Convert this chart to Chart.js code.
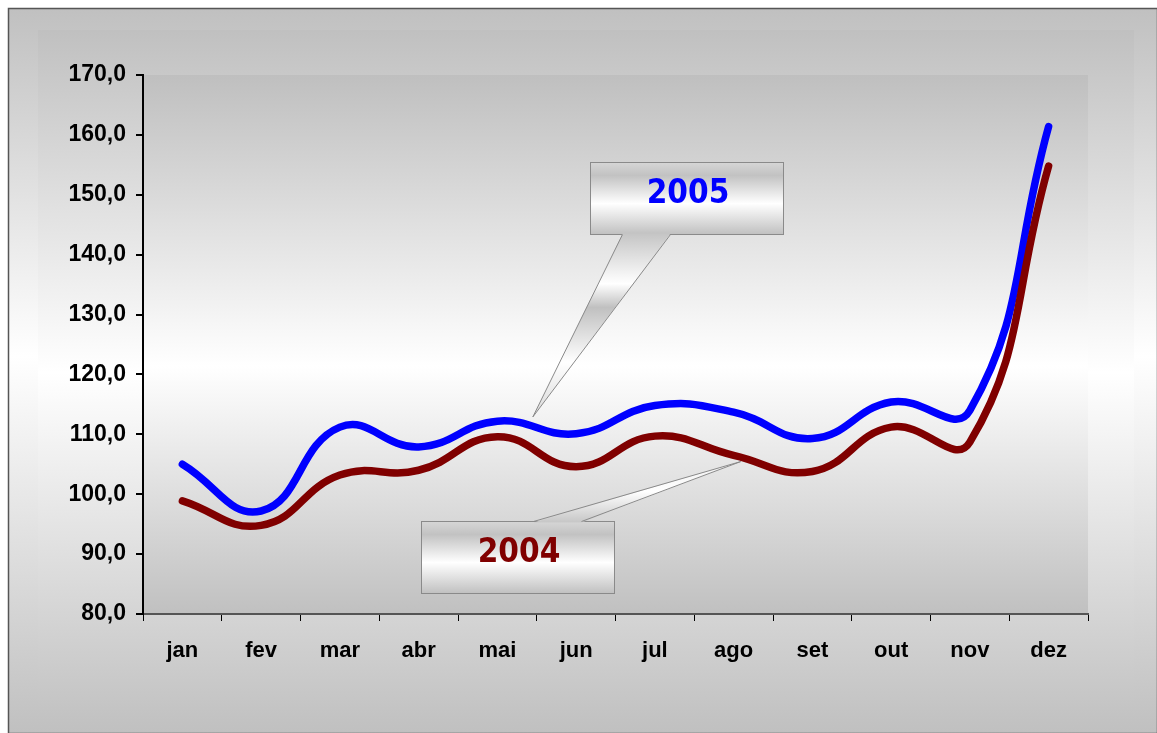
<!DOCTYPE html>
<html>
<head>
<meta charset="utf-8">
<script src="https://cdn.jsdelivr.net/npm/chart.js@4.4.0/dist/chart.umd.min.js"></script>
<style>
  html, body { margin: 0; padding: 0; background: #fff; }
  canvas { display: block; }
</style>
</head>
<body>
<canvas id="myChart" width="1157" height="733"></canvas>
<script>
const months = ["jan", "fev", "mar", "abr", "mai", "jun", "jul", "ago", "set", "out", "nov", "dez"];
const values2004 = [98.9, 94.8, 103.2, 104.0, 109.6, 104.6, 109.7, 106.5, 103.8, 111.2, 108.7, 154.8];
const values2005 = [105.0, 97.2, 111.2, 107.9, 112.2, 110.1, 114.8, 113.7, 109.3, 115.4, 114.0, 161.4];
const yMin = 80;
const yMax = 170;
const yStep = 10;

// callout boxes: box centre and tip are given as (category index, value)
const callouts = [
  { text: "2005", color: "#0000ff", box: [6.40, 149.5], tip: [4.45, 112.9], tail: [32, 80], side: "bottom" },
  { text: "2004", color: "#800000", box: [4.25, 89.5], tip: [7.09, 105.45], tail: [112, 160], side: "top" },
];

const ctx = document.getElementById("myChart");
const fontFamily = "'Liberation Sans', Arial, sans-serif";

function vGradient(c, y0, y1, stops) {
  const g = c.createLinearGradient(0, y0, 0, y1);
  stops.forEach(([p, col]) => g.addColorStop(p, col));
  return g;
}

const backgroundPlugin = {
  id: "background",
  beforeDraw(chart) {
    const c = chart.ctx;
    const { width, height, chartArea } = chart;
    c.save();
    c.fillStyle = vGradient(c, 8, height, [[0, "#c0c0c0"], [0.48, "#ffffff"], [1, "#c0c0c0"]]);
    c.fillRect(8, 8, width - 8, height - 8);
    c.fillStyle = vGradient(c, 30, 715, [[0, "#c0c0c0"], [0.5, "#ffffff"], [1, "#c3c3c3"]]);
    c.fillRect(38, 30, 1096, 685);
    c.strokeStyle = "#555555";
    c.lineWidth = 1.5;
    c.strokeRect(8.5, 8.5, width - 8, height - 8);
    c.fillStyle = vGradient(c, chartArea.top, chartArea.bottom, [[0, "#bfbfbf"], [0.54, "#ffffff"], [1, "#c0c0c0"]]);
    c.fillRect(chartArea.left, chartArea.top, chartArea.right - chartArea.left, chartArea.bottom - chartArea.top);
    c.restore();
  },
};

const calloutPlugin = {
  id: "callouts",
  afterDraw(chart) {
    const c = chart.ctx;
    const xs = chart.scales.x;
    const ys = chart.scales.y;
    const w = 193, h = 72;
    callouts.forEach((co) => {
      const cx = xs.getPixelForValue(co.box[0]);
      const cy = ys.getPixelForValue(co.box[1]);
      const left = Math.round(cx - w / 2) + 0.5;
      const top = Math.round(cy - h / 2) + 0.5;
      const tx = xs.getPixelForValue(co.tip[0]);
      const ty = ys.getPixelForValue(co.tip[1]);
      const baseY = co.side === "bottom" ? top + h : top;
      const bx0 = left + co.tail[0];
      const bx1 = left + co.tail[1];

      c.save();
      // box
      c.fillStyle = vGradient(c, top, top + h, [[0, "#d6d6d6"], [0.18, "#c2c2c2"], [0.57, "#ffffff"], [1, "#c0c0c0"]]);
      c.fillRect(left, top, w, h);
      c.strokeStyle = "#8a8a8a";
      c.lineWidth = 1;
      c.strokeRect(left, top, w, h);

      // tail
      const inset = co.side === "bottom" ? -1 : 1;
      const y0 = Math.min(baseY, ty), y1 = Math.max(baseY, ty);
      c.beginPath();
      c.moveTo(bx0, baseY + inset);
      c.lineTo(tx, ty);
      c.lineTo(bx1, baseY + inset);
      c.closePath();
      c.fillStyle = vGradient(c, y0, y1, co.side === "bottom"
        ? [[0, "#c6c6c6"], [0.27, "#ffffff"], [0.4, "#c0c0c0"], [0.7, "#ffffff"], [1, "#d8d8d8"]]
        : [[0, "#f0f0f0"], [0.5, "#ffffff"], [1, "#c8c8c8"]]);
      c.fill();
      c.beginPath();
      c.moveTo(bx0, baseY);
      c.lineTo(tx, ty);
      c.lineTo(bx1, baseY);
      c.stroke();

      // text
      c.fillStyle = co.color;
      c.font = "bold 33px 'DejaVu Sans Condensed', 'Open Sans', sans-serif";
      c.textAlign = "center";
      c.textBaseline = "middle";
      c.fillText(co.text, left + w / 2 + 1, top + h / 2 - 4);
      c.restore();
    });
  },
};

const data = {
  labels: months,
  datasets: [
    {
      label: "2004",
      data: values2004,
      borderColor: "#800000",
      backgroundColor: "#800000",
      borderWidth: 7.5,
      borderCapStyle: "round",
      pointRadius: 0,
      tension: 0.45,
      fill: false,
    },
    {
      label: "2005",
      data: values2005,
      borderColor: "#0000ff",
      backgroundColor: "#0000ff",
      borderWidth: 7.5,
      borderCapStyle: "round",
      pointRadius: 0,
      tension: 0.45,
      fill: false,
    },
  ],
};

const options = {
  responsive: false,
  animation: false,
  layout: { padding: { left: 0, top: 75, right: 69, bottom: 0 } },
  plugins: { legend: { display: false }, tooltip: { enabled: false } },
  scales: {
    x: {
      offset: true,
      grid: { offset: true, drawOnChartArea: false, drawTicks: true, tickLength: 7, color: "#000000", lineWidth: 1 },
      border: { color: "#555555", width: 2 },
      ticks: { color: "#000000", font: { family: fontFamily, size: 22, weight: "bold" }, padding: 17, maxRotation: 0 },
      afterFit: (s) => { s.height = 119; },
    },
    y: {
      min: yMin,
      max: yMax,
      grid: { drawOnChartArea: false, drawTicks: true, tickLength: 7, color: "#000000", lineWidth: 2 },
      border: { color: "#000000", width: 2 },
      ticks: {
        stepSize: yStep,
        color: "#000000",
        font: { family: fontFamily, size: 23, weight: "bold" },
        padding: 10,
        callback: (v) => Number(v).toFixed(1).replace(".", ","),
      },
      afterFit: (s) => { s.width = 143; },
    },
  },
};

const config = {
  type: "line",
  data,
  options,
  plugins: [backgroundPlugin, calloutPlugin],
};

const myLineChart = new Chart(ctx, config);
</script>
</body>
</html>
